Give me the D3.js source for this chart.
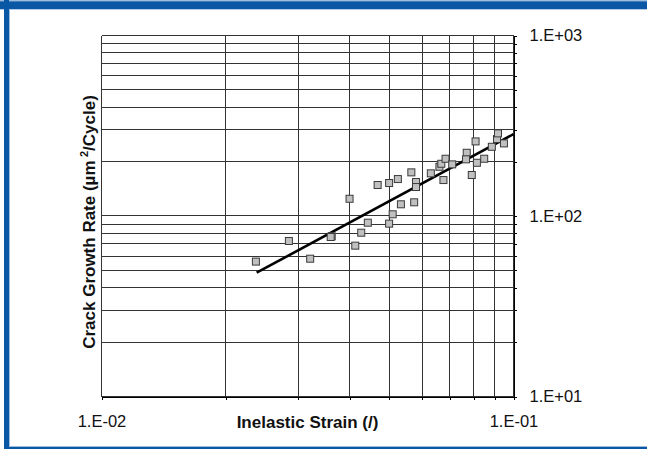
<!DOCTYPE html>
<html lang="en">
<head>
<meta charset="utf-8">
<title>Crack growth rate vs inelastic strain</title>
<style>
html,body{margin:0;padding:0;background:#fff;overflow:hidden;}
svg{display:block;font-family:"Liberation Sans",Arial,Helvetica,sans-serif;}
.grid line{stroke:#333;stroke-width:1px;shape-rendering:crispEdges;}
.axis path,.axis line{stroke:#000;stroke-width:1px;shape-rendering:crispEdges;}
.axis text{font-size:16.5px;fill:#111;}
.title{font-size:17px;font-weight:bold;fill:#111;}
</style>
</head>
<body>
<svg id="chart" width="647" height="449"></svg>

<script src="https://cdn.jsdelivr.net/npm/d3@7"></script>
<script>
/* ---------- data ---------- */
const strain = [
  0.0237, 0.0285, 0.0321, 0.0362, 0.0360, 0.0400, 0.0413, 0.0427, 0.0443,
  0.0468, 0.0499, 0.0499, 0.0509, 0.0524, 0.0533, 0.0565, 0.0574, 0.0580,
  0.0580, 0.0630, 0.0661, 0.0668, 0.0684, 0.0676, 0.0710, 0.0770, 0.0767,
  0.0809, 0.0792, 0.0815, 0.0849, 0.0886, 0.0912, 0.0917, 0.0948
];
const growthRate = [
  55.9, 72.7, 58.0, 77.2, 76.5, 124.6, 68.5, 80.8, 91.8,
  148.5, 152.3, 90.7, 102.2, 160.2, 116.1, 174.5, 119.1, 154.2,
  144.7, 172.3, 187.4, 194.7, 207.6, 158.2, 193.2, 224.0, 206.0,
  259.0, 168.7, 197.2, 207.6, 241.8, 266.8, 286.9, 252.5
];
// power-law trend line, end points
const trendStrain = [0.0238, 0.1];
const trendRate = [48.5, 284];

const xDomain = [0.01, 0.1];
const yDomain = [10, 1000];
const xLabels = {0.01: "1.E-02", 0.1: "1.E-01"};
const yLabels = {10: "1.E+01", 100: "1.E+02", 1000: "1.E+03"};

/* ---------- canvas ---------- */
const svg = d3.select('#chart');
const W = 647, H = 449;
const blue = '#0a57a6', paleBlue = '#9fbddb';

// blue frame (top, left, bottom)
svg.append('rect').attr('x',0).attr('y',0).attr('width',W).attr('height',1.5).attr('fill',paleBlue);
svg.append('rect').attr('x',0).attr('y',1.3).attr('width',W).attr('height',8).attr('fill',blue);
svg.append('rect').attr('x',4).attr('y',0).attr('width',5).attr('height',H).attr('fill',blue);
svg.append('rect').attr('x',9).attr('y',9).attr('width',1).attr('height',H-12).attr('fill',paleBlue);
svg.append('rect').attr('x',9).attr('y',446).attr('width',W-9).attr('height',1).attr('fill',paleBlue);
svg.append('rect').attr('x',4).attr('y',447).attr('width',W-4).attr('height',2).attr('fill',blue);

const x = d3.scaleLog().domain(xDomain).range([101.5, 513.5]);
const y = d3.scaleLog().domain(yDomain).range([396.5, 35.5]);
const snap = v => Math.round(v - 0.5) + 0.5;

/* ---------- grid ---------- */
const grid = svg.append('g').attr('class','grid');
grid.selectAll('line.h').data(y.ticks()).join('line').attr('class','h')
  .attr('x1', x.range()[0]).attr('x2', x.range()[1])
  .attr('y1', d => snap(y(d))).attr('y2', d => snap(y(d)));
grid.selectAll('line.v').data(x.ticks()).join('line').attr('class','v')
  .attr('y1', y.range()[1]).attr('y2', y.range()[0])
  .attr('x1', d => snap(x(d))).attr('x2', d => snap(x(d)));

/* ---------- axes ---------- */
const xAxis = d3.axisBottom(x).tickValues(x.ticks()).tickSize(3).tickSizeOuter(0)
  .tickPadding(16).tickFormat(d => xLabels[d] || '');
svg.append('g').attr('class','axis').attr('transform',`translate(0,${y.range()[0]})`).call(xAxis);

const yAxis = d3.axisRight(y).tickValues(y.ticks()).tickSize(3).tickSizeOuter(0)
  .tickPadding(13).tickFormat(d => yLabels[d] || '');
svg.append('g').attr('class','axis').attr('transform',`translate(${x.range()[1]},0)`).call(yAxis);

svg.selectAll('.axis text').attr('fill','#111');

/* ---------- trend line ---------- */
const trend = trendStrain.map((s,i) => [s, trendRate[i]]);
svg.append('path').datum(trend)
  .attr('d', d3.line().x(d => x(d[0])).y(d => y(d[1])))
  .attr('fill','none').attr('stroke','#000').attr('stroke-width',2.6);

/* ---------- points ---------- */
const pts = strain.map((s,i) => [s, growthRate[i]]);
const sz = 7;
svg.append('g').selectAll('rect').data(pts).join('rect')
  .attr('x', d => x(d[0]) - sz/2).attr('y', d => y(d[1]) - sz/2)
  .attr('width', sz).attr('height', sz)
  .attr('fill','#c0c0c0').attr('stroke','#3a3a3a').attr('stroke-width',1);

/* ---------- titles ---------- */
svg.append('text').attr('class','title')
  .attr('x', 307.5).attr('y', 428).attr('text-anchor','middle')
  .text('Inelastic Strain (/)');

const yt = svg.append('text').attr('class','title')
  .attr('transform','translate(95,222) rotate(-90)').attr('text-anchor','middle');
yt.append('tspan').text('Crack Growth Rate (\u00b5m\u2009');
yt.append('tspan').attr('font-size','11px').attr('dy','-7').text('2');
yt.append('tspan').attr('dy','7').text('/Cycle)');
</script>
</body>
</html>
